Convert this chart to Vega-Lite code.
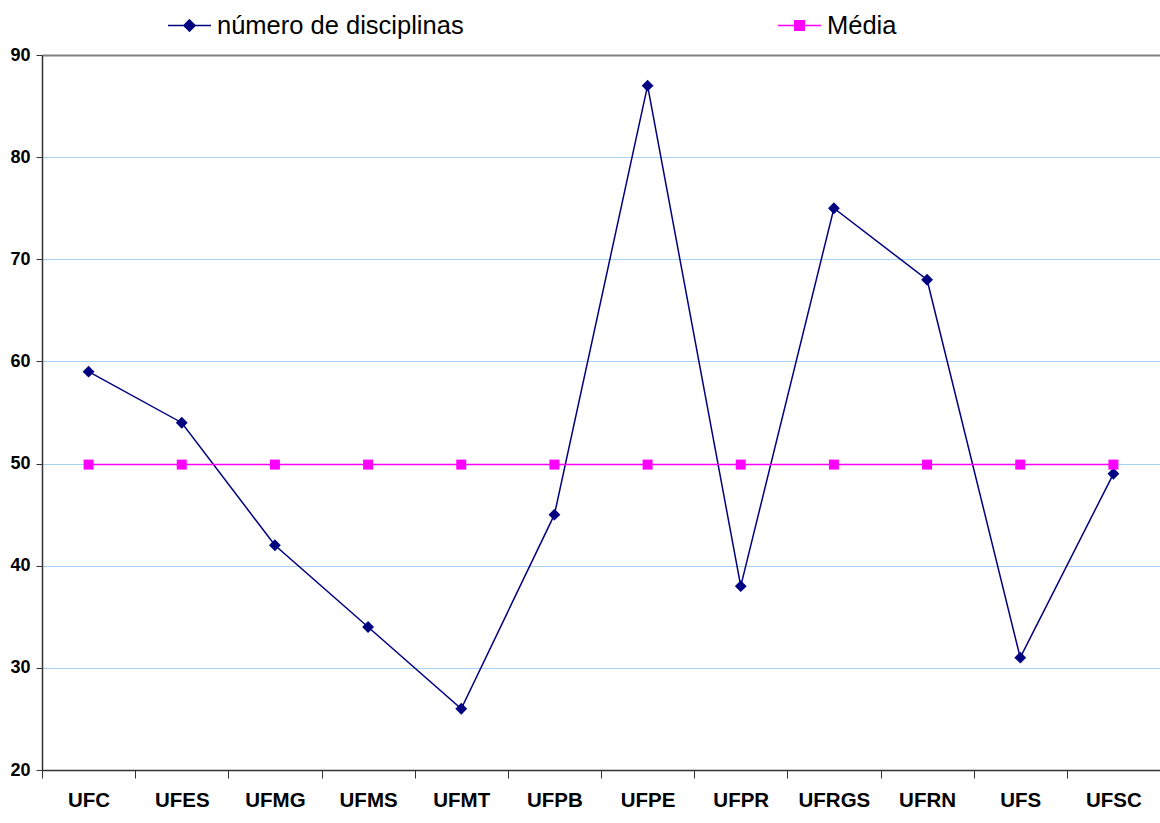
{
  "$schema": "https://vega.github.io/schema/vega-lite/v6.json",
  "width": 1118,
  "height": 715,
  "autosize": {"type": "none"},
  "padding": {"left": 42, "top": 55, "right": 0, "bottom": 53},
  "background": "white",
  "config": {
    "view": {"stroke": null},
    "font": "Liberation Sans"
  },
  "data": {
    "values": [
      {"uni": "UFC", "serie": "número de disciplinas", "valor": 59},
      {"uni": "UFES", "serie": "número de disciplinas", "valor": 54},
      {"uni": "UFMG", "serie": "número de disciplinas", "valor": 42},
      {"uni": "UFMS", "serie": "número de disciplinas", "valor": 34},
      {"uni": "UFMT", "serie": "número de disciplinas", "valor": 26},
      {"uni": "UFPB", "serie": "número de disciplinas", "valor": 45},
      {"uni": "UFPE", "serie": "número de disciplinas", "valor": 87},
      {"uni": "UFPR", "serie": "número de disciplinas", "valor": 38},
      {"uni": "UFRGS", "serie": "número de disciplinas", "valor": 75},
      {"uni": "UFRN", "serie": "número de disciplinas", "valor": 68},
      {"uni": "UFS", "serie": "número de disciplinas", "valor": 31},
      {"uni": "UFSC", "serie": "número de disciplinas", "valor": 49},
      {"uni": "UFC", "serie": "Média", "valor": 49.9},
      {"uni": "UFES", "serie": "Média", "valor": 49.9},
      {"uni": "UFMG", "serie": "Média", "valor": 49.9},
      {"uni": "UFMS", "serie": "Média", "valor": 49.9},
      {"uni": "UFMT", "serie": "Média", "valor": 49.9},
      {"uni": "UFPB", "serie": "Média", "valor": 49.9},
      {"uni": "UFPE", "serie": "Média", "valor": 49.9},
      {"uni": "UFPR", "serie": "Média", "valor": 49.9},
      {"uni": "UFRGS", "serie": "Média", "valor": 49.9},
      {"uni": "UFRN", "serie": "Média", "valor": 49.9},
      {"uni": "UFS", "serie": "Média", "valor": 49.9},
      {"uni": "UFSC", "serie": "Média", "valor": 49.9}
    ]
  },
  "encoding": {
    "x": {
      "field": "uni", "type": "nominal", "sort": null,
      "scale": {"paddingInner": 0, "paddingOuter": 0},
      "axis": {
        "title": null, "labelAngle": 0, "labelFont": "Liberation Sans", "labelFontWeight": "bold",
        "labelFontSize": 20.5, "labelColor": "#000000", "labelPadding": 12,
        "tickBand": "extent", "tickSize": 8, "tickColor": "#333333", "tickWidth": 1,
        "domainColor": "#333333", "domainWidth": 1.5, "grid": false
      }
    },
    "y": {
      "field": "valor", "type": "quantitative",
      "scale": {"domain": [20, 90], "nice": false, "zero": false},
      "axis": {
        "title": null, "values": [20, 30, 40, 50, 60, 70, 80, 90],
        "labelFont": "Liberation Sans", "labelFontWeight": "bold", "labelFontSize": 18,
        "labelColor": "#000000", "labelPadding": 6,
        "tickSize": 6, "tickColor": "#333333", "domainColor": "#333333", "domainWidth": 1.5,
        "grid": true,
        "gridColor": {"condition": {"test": "datum.value === 90", "value": "#808080"}, "value": "#A6D2F2"},
        "gridWidth": {"condition": {"test": "datum.value === 90", "value": 2}, "value": 1}
      }
    }
  },
  "layer": [
    {
      "mark": {"type": "line", "strokeWidth": 1.5},
      "encoding": {
        "color": {
          "field": "serie", "type": "nominal",
          "scale": {"domain": ["número de disciplinas", "Média"], "range": ["#000080", "#FF00FF"]},
          "legend": {
            "title": null, "orient": "none", "direction": "horizontal",
            "legendX": 125, "legendY": -52,
            "labelFont": "Liberation Sans", "labelFontSize": 25.5, "labelColor": "#000000",
            "labelLimit": 500,
            "columnPadding": 311, "labelOffset": 5,
            "symbolSize": 1849, "symbolStrokeWidth": 1.5,
            "encode": {
              "symbols": {
                "update": {
                  "shape": {"signal": "datum.value === 'Média' ? 'M-1,0H1M-0.22,-0.22H0.22V0.22H-0.22Z' : 'M-1,0H1M0,-0.26L0.26,0L0,0.26L-0.26,0Z'"},
                  "fill": {"signal": "datum.value === 'Média' ? '#FF00FF' : '#000080'"},
                  "stroke": {"signal": "datum.value === 'Média' ? '#FF00FF' : '#000080'"},
                  "opacity": {"value": 1},
                  "fillOpacity": {"value": 1}
                }
              }
            }
          }
        }
      }
    },
    {
      "transform": [{"filter": "datum.serie === 'número de disciplinas'"}],
      "mark": {"type": "point", "filled": true, "opacity": 1, "size": 140, "shape": "diamond", "color": "#000080"},
      "encoding": {}
    },
    {
      "transform": [{"filter": "datum.serie === 'Média'"}],
      "mark": {"type": "point", "filled": true, "opacity": 1, "size": 100, "shape": "square", "color": "#FF00FF"},
      "encoding": {}
    }
  ]
}
